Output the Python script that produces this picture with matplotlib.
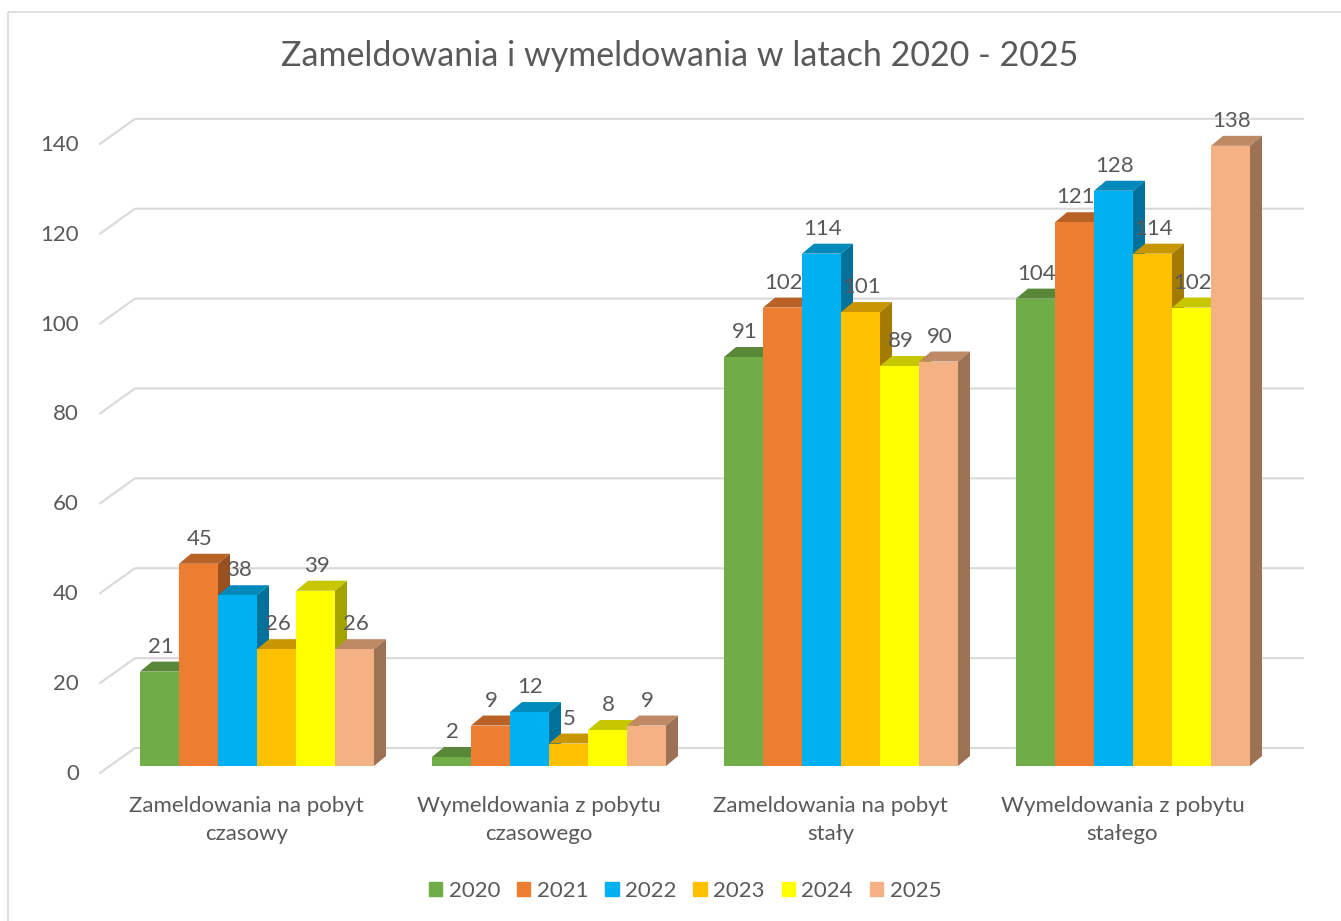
import matplotlib
matplotlib.use("Agg")
import matplotlib.pyplot as plt
import matplotlib.patches as mpatches
import numpy as np
from matplotlib.colors import to_rgb

categories = ["Zameldowania na pobyt\nczasowy",
              "Wymeldowania z pobytu\nczasowego",
              "Zameldowania na pobyt\nstały",
              "Wymeldowania z pobytu\nstałego"]
years = ["2020", "2021", "2022", "2023", "2024", "2025"]
v2020 = [21, 2, 91, 104]
v2021 = [45, 9, 102, 121]
v2022 = [38, 12, 114, 128]
v2023 = [26, 5, 101, 114]
v2024 = [39, 8, 89, 102]
v2025 = [26, 9, 90, 138]
series = [v2020, v2021, v2022, v2023, v2024, v2025]
colors = ["#70AD47", "#ED7D31", "#00B0F0", "#FFC000", "#FFFF00", "#F4B183"]
yticks = [0, 20, 40, 60, 80, 100, 120, 140]
title = "Zameldowania i wymeldowania w latach 2020 - 2025"

FONT = "Lato"
TXT = "#595959"
FS = 16
W, H = 1341, 921
fig = plt.figure(figsize=(W / 100, H / 100), dpi=100)
fig.patch.set_facecolor("white")

# chart border
fig.add_artist(mpatches.Rectangle((8 / W, 1 - 12 / H), 1.2, -1.2, transform=fig.transFigure,
                                  fill=False, edgecolor="#D9D9D9", lw=1.2))

ax = fig.add_axes([111 / W, 155 / H, 1168 / W, 150 * 4.494 / H])
ax.set_xlim(-0.5, 3.5)
ax.set_ylim(0, 150)
ax.axis("off")

fig.canvas.draw()
T = ax.transData

def disp(x, y):
    return T.transform((x, y))

# gridlines (back wall + floor diagonal)
for v in yticks:
    x0, y0 = disp(-0.5, v)
    x1, _ = disp(3.5, v)
    pts = np.array([[x0 - 11, y0 - 7], [x0 + 24, y0 + 18], [x1 + 24, y0 + 18]])
    ax.add_line(plt.Line2D(pts[:, 0], pts[:, 1], transform=None, color="#D9D9D9",
                           lw=1.5, zorder=0, clip_on=False))
    fig.text((x0 - 32) / W, (y0 - 8) / H, str(v), ha="right", va="center",
             fontsize=FS, color=TXT, family=FONT)

bw = 39 / 292
n = len(series)
DX, DY = 12, 10

def shade(c, f):
    r, g, b = to_rgb(c)
    return (r * f, g * f, b * f)

z = 1
for ci in range(len(categories)):
    for si in range(n):
        xc = ci + (si - (n - 1) / 2) * bw
        v = series[si][ci]
        ax.bar(xc, v, width=bw, color=colors[si], zorder=z + 2, clip_on=False,
               linewidth=0)
        xl, yb = disp(xc - bw / 2, 0)
        xr, yt = disp(xc + bw / 2, v)
        top = [[xl, yt], [xr, yt], [xr + DX, yt + DY], [xl + DX, yt + DY]]
        side = [[xr, yb], [xr, yt], [xr + DX, yt + DY], [xr + DX, yb + DY]]
        ax.add_patch(mpatches.Polygon(top, closed=True, transform=None,
                                      facecolor=shade(colors[si], 0.78), lw=0,
                                      zorder=z, clip_on=False))
        ax.add_patch(mpatches.Polygon(side, closed=True, transform=None,
                                      facecolor=shade(colors[si], 0.64), lw=0,
                                      zorder=z, clip_on=False))
        z += 3
        xm = (xl + xr) / 2
        fig.text((xm + 1) / W, (yt + 25) / H, str(v), ha="center", va="center",
                 fontsize=FS, color=TXT, family=FONT, zorder=200)

for ci, lab in enumerate(categories):
    x0, y0 = disp(ci, 0)
    fig.text((x0 - 10.5) / W, (y0 - 30) / H, lab, ha="center", va="top",
             fontsize=FS, color=TXT, family=FONT, linespacing=1.5)

fig.text(680 / W, 1 - 56 / H, title, ha="center", va="center", fontsize=24.5,
         color=TXT, family=FONT)

handles = [mpatches.Patch(color=c) for c in colors]
fig.legend(handles, years, loc="center", bbox_to_anchor=(685 / W, 30 / H), ncol=6,
           frameon=False, prop={"family": FONT, "size": FS}, labelcolor=TXT,
           handlelength=0.6, handleheight=0.6, handletextpad=0.3, columnspacing=0.75)

fig.savefig("out.png", dpi=100, facecolor="white")
